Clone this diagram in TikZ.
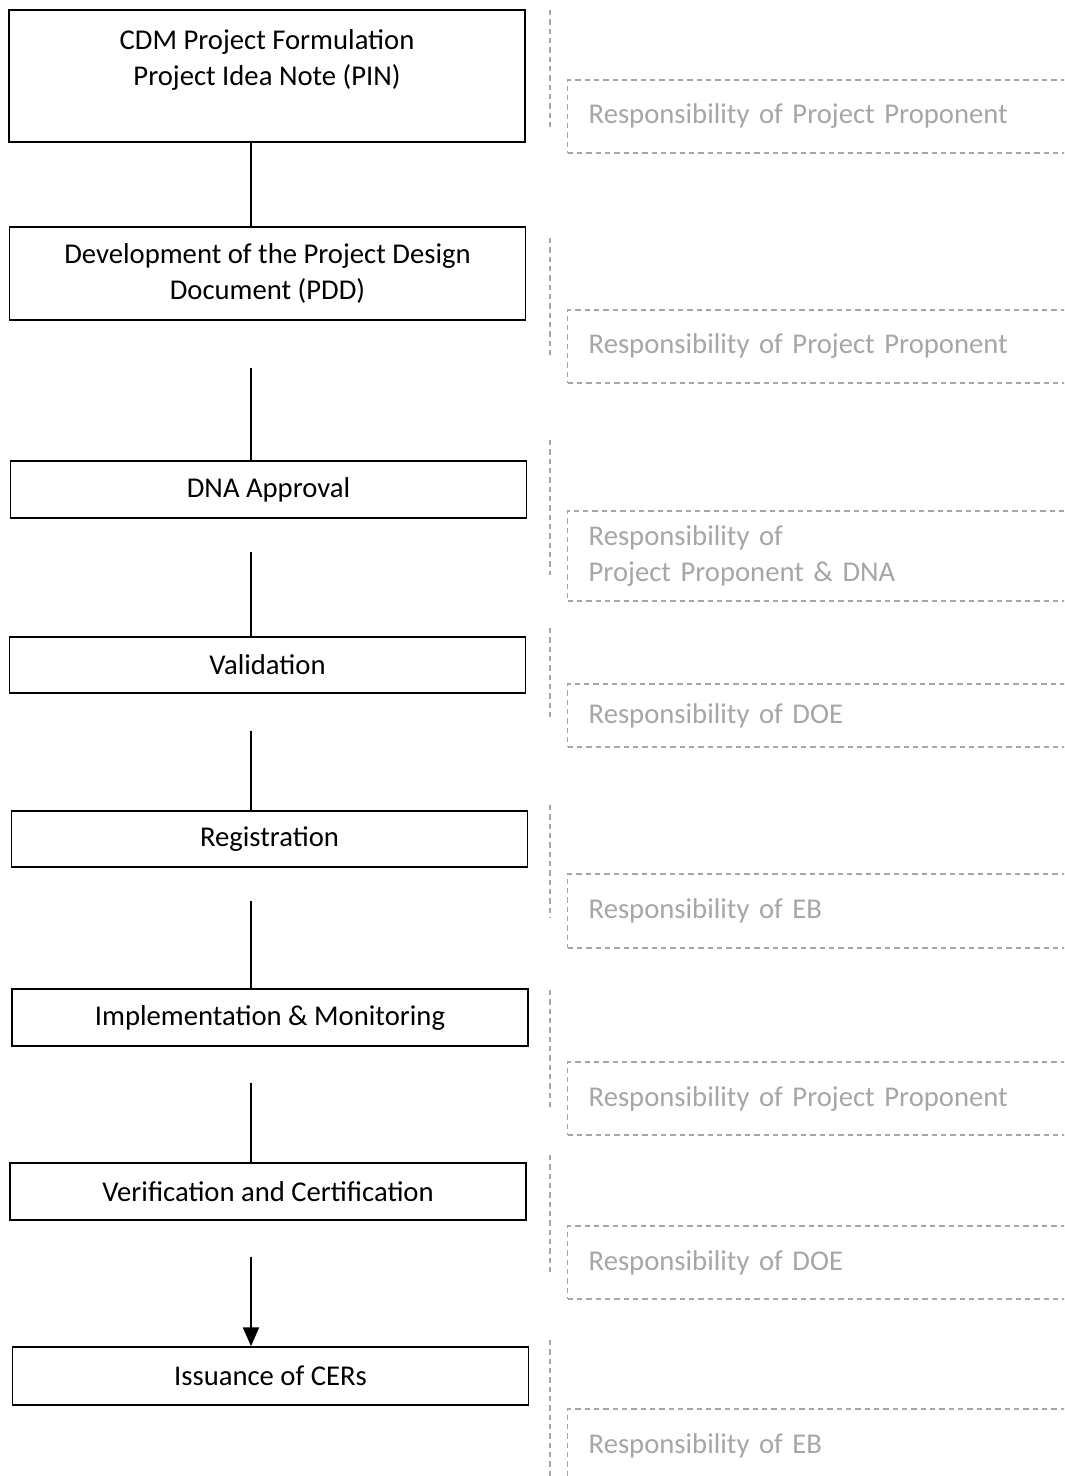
\documentclass[tikz,border=0pt]{standalone}
\usepackage{fontspec}
\setmainfont{Carlito}
\usetikzlibrary{arrows.meta}
\definecolor{respgray}{HTML}{A6A6A6}

\tikzset{
  stage/.style={draw, line width=1.3pt, minimum width=387pt, align=center,
    font=\fontsize{21.5}{27}\selectfont},
  resp/.style={draw=respgray, dash pattern=on 4pt off 3pt, line width=1pt,
    text=respgray, anchor=west, text width=380pt, align=left,
    inner xsep=15.75pt, font=\fontsize{21.5}{27}\selectfont},
  guide/.style={draw=respgray, dash pattern=on 4pt off 3pt, line width=1pt},
  link/.style={line width=1.3pt}
}

\begin{document}
\begin{tikzpicture}[x=0.75pt,y=-0.75pt]

    % Page frame
    \useasboundingbox (0,0) rectangle (1064,1476);
    \clip (0,0) rectangle (1064,1476);

    % Stages of the project cycle
    \node[stage, minimum height=99pt] (pin) at (267,76)
      {CDM Project Formulation\\Project Idea Note (PIN)\\\mbox{}};
    \node[stage, minimum height=69.75pt] (pdd) at (267.5,273.5)
      {Development of the Project Design\\Document (PDD)};
    \node[stage, minimum height=42.75pt] (dna) at (268.5,489.5) {DNA Approval};
    \node[stage, minimum height=42pt] (val) at (267.5,665) {Validation};
    \node[stage, minimum height=42pt] (reg) at (269.5,839) {Registration};
    \node[stage, minimum height=42.75pt] (imp) at (270,1017.5) {Implementation \& Monitoring};
    \node[stage, minimum height=42.75pt] (ver) at (268,1191.5) {Verification and Certification};
    \node[stage, minimum height=43.5pt] (iss) at (270.5,1376) {Issuance of CERs};

    % Who is responsible
    \node[resp, minimum height=54.75pt] (r1) at (567,116.5) {Responsibility of Project Proponent};
    \node[resp, minimum height=54.75pt] (r2) at (567,346.5) {Responsibility of Project Proponent};
    \node[resp, minimum height=67.5pt] (r3) at (567,556)
      {Responsibility of\\Project Proponent \& DNA};
    \node[resp, minimum height=47.25pt] (r4) at (567,715.5) {Responsibility of DOE};
    \node[resp, minimum height=55.5pt] (r5) at (567,911) {Responsibility of EB};
    \node[resp, minimum height=54.75pt] (r6) at (567,1098.5) {Responsibility of Project Proponent};
    \node[resp, minimum height=54.75pt] (r7) at (567,1262.5) {Responsibility of DOE};
    \node[resp, minimum height=54.75pt] (r8) at (567,1445.5) {Responsibility of EB};

    % Dashed separators
    \foreach \a/\b in {10/130, 238/358, 440/575, 628/720, 805/918, 990/1110, 1155/1275, 1340/1476}
      \draw[guide] (550,\a) -- (550,\b);

    % Connectors
    \coordinate (stem) at (251,0);
    \coordinate (g2) at (251,368);
    \coordinate (g3) at (251,552);
    \coordinate (g4) at (251,731);
    \coordinate (g5) at (251,901);
    \coordinate (g6) at (251,1083);
    \coordinate (g7) at (251,1257);
    \draw[link] (pin.south -| stem) -- (pdd.north -| stem);
    \foreach \g/\b in {g2/dna, g3/val, g4/reg, g5/imp, g6/ver}
      \draw[link] (\g) -- (\g |- \b.north);
    \draw[link, -{Triangle[length=14pt,width=12pt]}] (g7) -- (g7 |- iss.north);

\end{tikzpicture}
\end{document}
